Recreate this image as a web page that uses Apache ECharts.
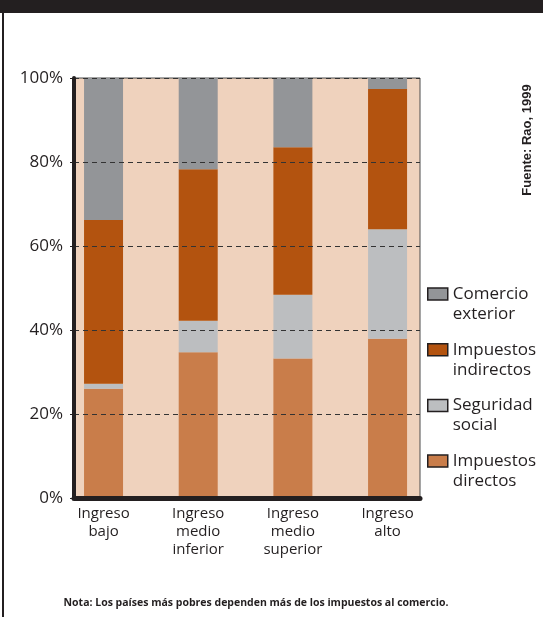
<!DOCTYPE html>
<html>
<head>
<meta charset="utf-8">
<script src="https://cdn.jsdelivr.net/npm/echarts@6/dist/echarts.min.js"></script>
<style>
  html, body { margin: 0; padding: 0; background: #fff; }
  #chart { width: 543px; height: 617px; }
</style>
</head>
<body>
<div id="chart"></div>
<script>
// categorías (grupos de ingreso)
var categories = ['Ingreso\nbajo', 'Ingreso\nmedio\ninferior', 'Ingreso\nmedio\nsuperior', 'Ingreso\nalto'];
// porcentajes por tipo de impuesto, de abajo hacia arriba
var directos = [26.0, 34.7, 33.2, 37.9];
var seguridad = [1.2, 7.5, 15.2, 26.1];
var indirectos = [39.0, 36.1, 35.1, 33.4];
var comercio = [33.8, 21.7, 16.5, 2.6];
var seriesNames = ['Impuestos directos', 'Seguridad social', 'Impuestos indirectos', 'Comercio exterior'];
var seriesColors = ['#c97d4a', '#bcbec0', '#b3530f', '#939598'];
var yTicks = [0, 20, 40, 60, 80, 100];

var textColor = '#231f20';
var chart = echarts.init(document.getElementById('chart'));

var values = [directos, seguridad, indirectos, comercio];
var series = values.map(function (d, i) {
  return {
    name: seriesNames[i],
    type: 'bar',
    stack: 'total',
    xAxisIndex: 1,
    yAxisIndex: 1,
    barWidth: 39,
    itemStyle: { color: seriesColors[i] },
    data: d
  };
});

chart.setOption({
  animation: false,
  textStyle: { fontFamily: 'Open Sans' },
  grid: [
    // marco visible del gráfico
    { left: 74, top: 78, width: 346, height: 420, show: true,
      backgroundColor: '#efd2bd', borderColor: '#4d4d4d', borderWidth: 1 },
    // grid de las barras (bandas de categoría)
    { left: 56.2, top: 78, width: 378.7, height: 420 }
  ],
  xAxis: [
    { gridIndex: 0, type: 'value', min: 0, max: 1, z: 3,
      axisLine: { lineStyle: { color: textColor, width: 5 } },
      axisTick: { show: false }, axisLabel: { show: false }, splitLine: { show: false } },
    { gridIndex: 1, type: 'category', data: categories,
      axisLine: { show: false }, axisTick: { show: false },
      axisLabel: { interval: 0, margin: 7, fontSize: 15, lineHeight: 18, color: textColor } }
  ],
  yAxis: [
    { gridIndex: 0, type: 'value', min: yTicks[0], max: yTicks[yTicks.length - 1], interval: 20, z: 3,
      axisLine: { show: true, lineStyle: { color: textColor, width: 4 } },
      axisTick: { show: true, length: 4, lineStyle: { color: textColor } },
      axisLabel: { formatter: '{value}%', fontSize: 17, color: textColor, margin: 11 },
      splitLine: { show: true, lineStyle: { color: '#333', type: [5, 4], width: 1 } } },
    { gridIndex: 1, type: 'value', min: 0, max: 100, show: false }
  ],
  legend: {
    orient: 'vertical',
    left: 427,
    top: 264,
    padding: 0,
    itemGap: -4.3,
    itemWidth: 20,
    itemHeight: 12,
    icon: 'rect',
    itemStyle: { borderColor: textColor, borderWidth: 1.5 },
    data: seriesNames.slice().reverse(),
    // línea vacía arriba para que el cuadro quede a la altura de la primera línea
    formatter: function (name) { return ' \n' + name.replace(' ', '\n'); },
    textStyle: { fontSize: 17, lineHeight: 20, color: textColor }
  },
  graphic: [
    { type: 'rect', shape: { x: 0, y: 0, width: 543, height: 13 }, style: { fill: textColor } },
    { type: 'rect', shape: { x: 2, y: 0, width: 2, height: 617 }, style: { fill: textColor } },
    { type: 'text', x: 527, y: 140, rotation: Math.PI / 2,
      style: { text: 'Fuente: Rao, 1999', fontFamily: 'Liberation Sans', fontWeight: 'bold',
        fontSize: 13, fill: textColor, align: 'center', verticalAlign: 'middle' } },
    { type: 'text', x: 256, y: 603,
      style: { text: 'Nota: Los países más pobres dependen más de los impuestos al comercio.',
        fontFamily: 'Open Sans', fontWeight: 'bold', fontSize: 10.5, fill: textColor,
        align: 'center', verticalAlign: 'middle' } }
  ],
  series: series
});
</script>
</body>
</html>
